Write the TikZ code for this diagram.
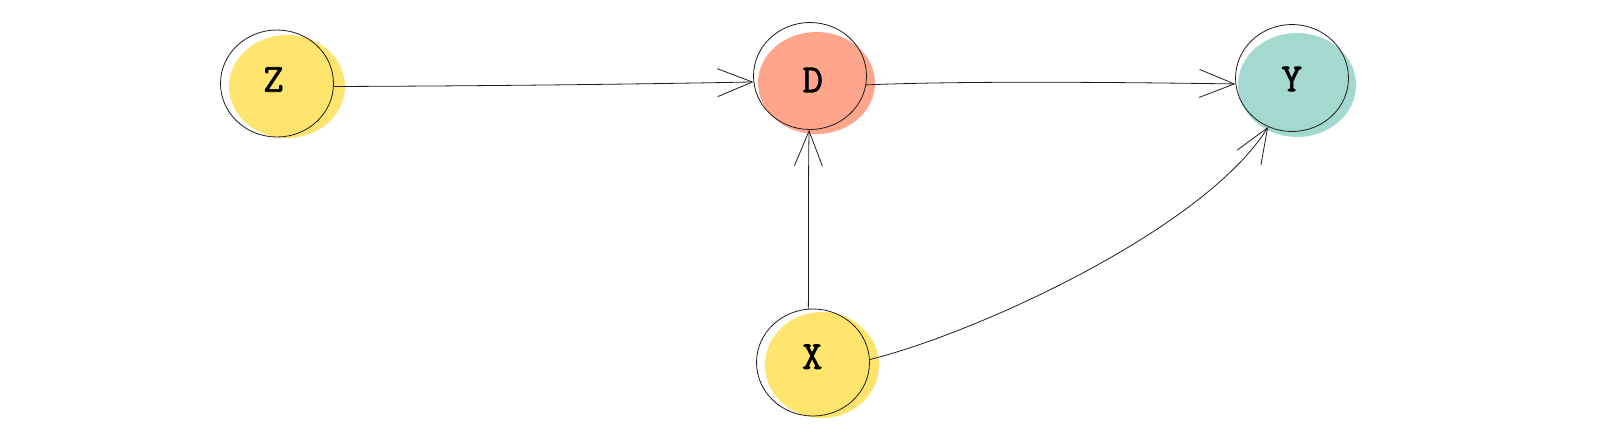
\documentclass[tikz,border=0pt]{standalone}
\usepackage{fontspec}
\newfontfamily\lblfont{Latin Modern Mono}[FakeBold=1.6]
\usetikzlibrary{arrows.meta,shapes.geometric}
\definecolor{cyel}{HTML}{FFE46E}
\definecolor{csal}{HTML}{FFA58C}
\definecolor{cteal}{HTML}{A3D9CE}
\definecolor{cline}{HTML}{1E1E1E}
\tikzset{
  outl/.style={ellipse, draw=cline, line width=0.8pt, minimum width=113pt, minimum height=107pt, inner sep=0pt},
  lbl/.style={font=\lblfont\fontsize{40}{40}\selectfont, text=black, inner sep=0pt},
  arr/.style={draw=cline, line width=0.8pt, -{Straight Barb[length=35pt,width=28pt,line width=0.8pt]}},
}
\begin{document}
\begin{tikzpicture}[x=1pt,y=-1pt]
\useasboundingbox (0,0) rectangle (1600,440);
% fills
\fill[cyel] (287,86.5) ellipse [x radius=58pt, y radius=51.5pt];
\fill[csal] (816.5,83) ellipse [x radius=58.5pt, y radius=51pt];
\fill[cteal] (1297,85) ellipse [x radius=59pt, y radius=52pt];
\fill[cyel] (822,365) ellipse [x radius=57pt, y radius=53pt];
% outlines
\node[outl] (z) at (277,83.5) {};
\node[outl] (d) at (810,76) {};
\node[outl] (y) at (1292,78) {};
\node[outl] (x) at (813,362.5) {};
% labels
\node[lbl] (tz) at (273.5,79.5) {Z};
\node[lbl] (td) at (812.7,80) {D};
\node[lbl] (ty) at (1291.7,79) {Y};
\node[lbl] (tx) at (812.3,356.7) {X};
% edges
\draw[arr] (z.-3) .. controls (490,86) and (650,84) .. (d.186);
\draw[arr] (d.-9) .. controls (960,81) and (1100,82) .. (y.186);
\draw[arr] (x.95) .. controls (809,260) and (808,190) .. (d.-91);
\draw[arr] (x.3) .. controls (980,332) and (1205,228) .. (y.244);
\end{tikzpicture}
\end{document}
